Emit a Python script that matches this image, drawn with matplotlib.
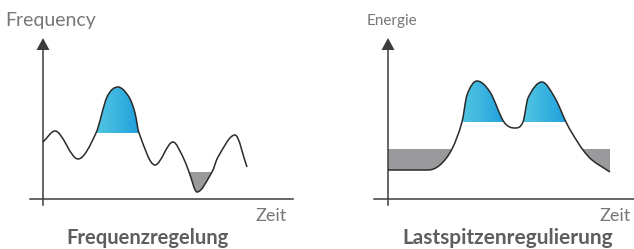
import matplotlib
matplotlib.use("Agg")
import matplotlib.pyplot as plt
import numpy as np
from matplotlib.path import Path
from matplotlib.patches import PathPatch, Rectangle, Polygon

plt.rcParams['font.family'] = ['Lato', 'DejaVu Sans']

# knot points of the two sketched curves (pixel space, y grows downward)
freq_x = [43, 55, 78, 96, 107, 118, 129, 135, 139, 155, 173, 183, 189, 197, 212, 218, 235, 247]
freq_y = [142, 131, 159, 133, 97, 87, 97, 113, 133, 165, 142, 157, 172, 192, 172, 157, 135, 167]

energy_x = [388, 428, 440, 452, 462, 467, 477, 490, 504, 515, 523, 528, 542, 555, 566, 572, 583, 592, 610]
energy_y = [170, 170, 165, 149, 122, 95, 81, 92, 122, 128, 122, 98, 82, 98, 122, 133, 150, 160, 172]

# shaded bands: (x start, x end, level)
freq_blue = [(96, 139, 133)]
freq_gray = [(189, 212, 172)]
energy_blue = [(462, 504, 122), (523, 566, 122)]
energy_gray = [(388, 452, 149), (583, 610, 149)]

CURVE = '#2a2a2a'
AXIS = '#3c3c3c'
TEXT = '#777777'
TITLE = '#5e5e5e'
GRAY = '#9a9a9c'
BLUE_L = np.array([0x52, 0xc6, 0xe2]) / 255
BLUE_R = np.array([0x22, 0xa0, 0xdc]) / 255


def smooth_path(xs, ys):
    # hermite-style bezier through the knots, flat tangents at extrema
    x = np.asarray(xs, float)
    y = np.asarray(ys, float)
    n = len(x)
    m = np.zeros(n)
    for i in range(n):
        if i == 0:
            m[i] = (y[1] - y[0]) / (x[1] - x[0])
        elif i == n - 1:
            m[i] = (y[-1] - y[-2]) / (x[-1] - x[-2])
        elif (y[i] - y[i - 1]) * (y[i + 1] - y[i]) <= 0:
            m[i] = 0
        else:
            m[i] = (y[i + 1] - y[i - 1]) / (x[i + 1] - x[i - 1])
    verts = [(x[0], y[0])]
    codes = [Path.MOVETO]
    for i in range(n - 1):
        d = (x[i + 1] - x[i]) / 3
        verts += [(x[i] + d, y[i] + m[i] * d),
                  (x[i + 1] - d, y[i + 1] - m[i + 1] * d),
                  (x[i + 1], y[i + 1])]
        codes += [Path.CURVE4] * 3
    return verts, codes


def closed(verts, codes, y_edge):
    v = list(verts) + [(verts[-1][0], y_edge), (verts[0][0], y_edge), verts[0]]
    c = list(codes) + [Path.LINETO, Path.LINETO, Path.CLOSEPOLY]
    return Path(v, c)


def panel(ax, xs, ys, blue, gray, x0, x1, yaxis_x):
    verts, codes = smooth_path(xs, ys)
    under = PathPatch(closed(verts, codes, 199), transform=ax.transData)
    above = PathPatch(closed(verts, codes, 0), transform=ax.transData)

    for a, b, lvl in blue:
        grad = np.linspace(BLUE_L, BLUE_R, 64)[None, :, :]
        im = ax.imshow(grad, extent=(a, b, lvl, min(ys) - 2), aspect='auto',
                       interpolation='bilinear', zorder=1)
        im.set_clip_path(under)
    for a, b, lvl in gray:
        r = Rectangle((a, lvl), b - a, 199 - lvl, color=GRAY, lw=0, zorder=1)
        ax.add_patch(r)
        r.set_clip_path(above)

    ax.add_patch(PathPatch(Path(verts, codes), fill=False, ec=CURVE, lw=1.1, zorder=3))

    # axes with arrow
    ax.plot([x0, x1], [199, 199], color=AXIS, lw=1.1, zorder=2)
    ax.plot([yaxis_x, yaxis_x], [205, 48], color=AXIS, lw=1.1, zorder=2)
    ax.add_patch(Polygon([(yaxis_x - 6.5, 50), (yaxis_x + 6.5, 50), (yaxis_x, 38)],
                         closed=True, color=AXIS, lw=0, zorder=2))


fig = plt.figure(figsize=(6.34, 2.49), dpi=100)
ax = fig.add_axes([0, 0, 1, 1])

panel(ax, freq_x, freq_y, freq_blue, freq_gray, 30, 293, 43)
panel(ax, energy_x, energy_y, energy_blue, energy_gray, 374, 634, 388)

ax.text(5, 20, 'Frequency', color=TEXT, fontsize=14, ha='left', va='center')
ax.text(367, 21, 'Energie', color=TEXT, fontsize=11, ha='left', va='center')
ax.text(287, 216, 'Zeit', color=TEXT, fontsize=13, ha='right', va='center')
ax.text(631, 216, 'Zeit', color=TEXT, fontsize=13, ha='right', va='center')
ax.text(147, 238, 'Frequenzregelung', color=TITLE, fontsize=14.5,
        fontweight='bold', ha='center', va='center')
ax.text(508, 238, 'Lastspitzenregulierung', color=TITLE, fontsize=15,
        fontweight='bold', ha='center', va='center')

ax.set_xlim(0, 634)
ax.set_ylim(249, 0)
ax.axis('off')

fig.savefig('out.png', dpi=100)
